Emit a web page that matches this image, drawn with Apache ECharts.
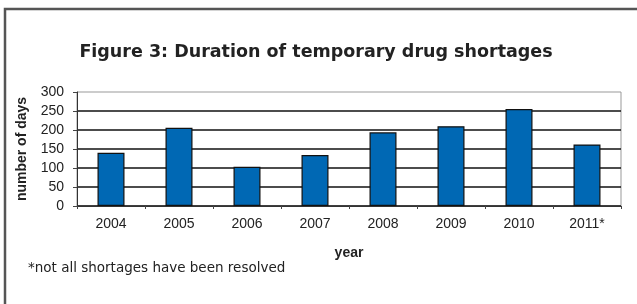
<!DOCTYPE html>
<html>
<head>
<meta charset="utf-8">
<script src="https://cdn.jsdelivr.net/npm/echarts@6/dist/echarts.min.js"></script>
<style>
  html, body { margin: 0; padding: 0; background: #fff; }
  #main { width: 637px; height: 304px; }
</style>
</head>
<body>
<div id="main"></div>
<script>
// data
var years = ['2004', '2005', '2006', '2007', '2008', '2009', '2010', '2011*'];
var days = [140, 206, 103, 134, 194, 210, 255, 162];
var yTicks = [0, 50, 100, 150, 200, 250, 300];

var myChart = echarts.init(document.getElementById('main'));

var option = {
    backgroundColor: '#fff',
    animation: false,
    title: {
        text: 'Figure 3: Duration of temporary drug shortages',
        left: 311,
        top: 38,
        textAlign: 'center',
        textStyle: {
            fontFamily: 'DejaVu Sans',
            fontWeight: 'bold',
            fontSize: 17.5,
            color: '#222'
        }
    },
    grid: {
        left: 77,
        right: 16,
        top: 92,
        bottom: 98,
        show: true,
        borderColor: '#999',
        borderWidth: 1
    },
    xAxis: {
        type: 'category',
        data: years,
        name: 'year',
        nameLocation: 'middle',
        nameGap: 40,
        nameTextStyle: {
            fontFamily: 'Liberation Sans',
            fontWeight: 'bold',
            fontSize: 14,
            color: '#222'
        },
        axisLine: { lineStyle: { color: '#333', width: 1 } },
        axisTick: { show: true, length: 3, lineStyle: { color: '#444' } },
        axisLabel: {
            fontFamily: 'Liberation Sans',
            fontSize: 14,
            color: '#222',
            margin: 11
        }
    },
    yAxis: {
        type: 'value',
        min: yTicks[0],
        max: yTicks[yTicks.length - 1],
        interval: 50,
        name: 'number of days',
        nameLocation: 'middle',
        nameGap: 48,
        nameRotate: 90,
        nameTextStyle: {
            fontFamily: 'Liberation Sans',
            fontWeight: 'bold',
            fontSize: 14,
            color: '#222'
        },
        axisLine: { show: true, lineStyle: { color: '#333', width: 1 } },
        axisTick: { show: true, length: 4, lineStyle: { color: '#444' } },
        axisLabel: {
            fontFamily: 'Liberation Sans',
            fontSize: 14,
            color: '#222',
            margin: 13
        },
        splitLine: {
            show: true,
            showMaxLine: false,
            lineStyle: { color: '#111', width: 1.5 }
        }
    },
    series: [
        {
            name: 'number of days',
            type: 'bar',
            data: days,
            barWidth: 27,
            itemStyle: {
                color: '#0068b4',
                borderColor: '#111',
                borderWidth: 1.2
            }
        }
    ],
    graphic: [
        {
            type: 'rect',
            shape: { x: 5, y: 9, width: 700, height: 400 },
            style: { fill: 'none', stroke: '#555', lineWidth: 2.5 },
            silent: true
        },
        {
            type: 'text',
            left: 28,
            top: 261,
            style: {
                text: '*not all shortages have been resolved',
                font: '13.5px "DejaVu Sans"',
                fill: '#222'
            }
        }
    ]
};

myChart.setOption(option);
</script>
</body>
</html>
